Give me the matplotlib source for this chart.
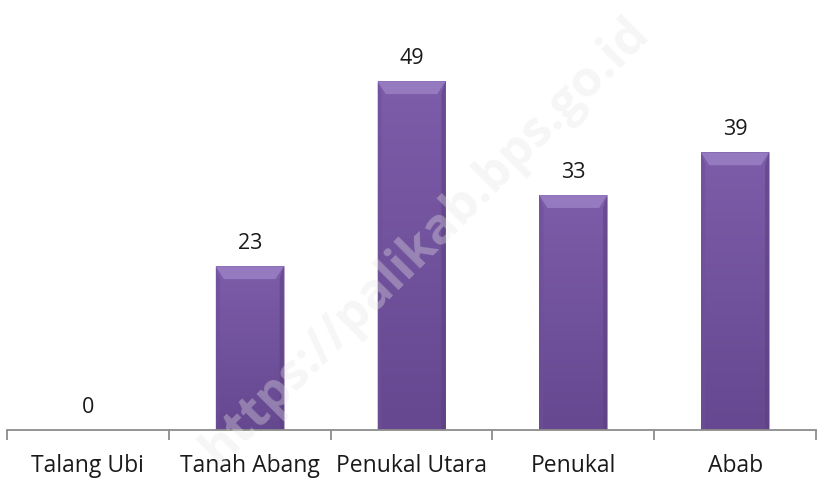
import matplotlib
matplotlib.use("Agg")
import matplotlib.pyplot as plt
import numpy as np
from matplotlib.patches import Polygon
from matplotlib.colors import LinearSegmentedColormap

categories = ["Talang Ubi", "Tanah Abang", "Penukal Utara", "Penukal", "Abab"]
values = [0, 23, 49, 33, 39]

plt.rcParams['font.family'] = ['Open Sans', 'DejaVu Sans']

fig = plt.figure(figsize=(8.17, 4.82), dpi=100)
ax = fig.add_axes([7/817, 52/482, 809/817, 427/482])
x = np.arange(len(categories))
bw = 0.42
bars = ax.bar(x, values, width=bw, color="#7a5aa5", edgecolor="#b9a6d3", linewidth=0.6, zorder=2)

ax.set_xlim(-0.5, len(categories) - 0.5)
ax.set_ylim(0, 60)

grad = np.linspace(0, 1, 100).reshape(-1, 1)
cmap = LinearSegmentedColormap.from_list("g", ["#654890", "#7d5ca9"])
for b, v in zip(bars, values):
    if v <= 0:
        continue
    x0 = b.get_x(); w = b.get_width()
    im = ax.imshow(grad, extent=(x0, x0 + w, 0, v), origin="lower", aspect="auto", cmap=cmap, zorder=2.1)
    im.set_clip_path(b)
    bev_h = 1.8
    bev_w = w * 0.12
    top = Polygon([[x0, v], [x0 + w, v], [x0 + w - bev_w, v - bev_h], [x0 + bev_w, v - bev_h]],
                  closed=True, facecolor="#957ac0", edgecolor="none", zorder=2.2)
    ax.add_patch(top)
    left = Polygon([[x0, v], [x0 + bev_w * 0.5, v - bev_h], [x0 + bev_w * 0.5, 0], [x0, 0]],
                   closed=True, facecolor="#6e4f98", edgecolor="none", zorder=2.2, alpha=0.6)
    ax.add_patch(left)
    right = Polygon([[x0 + w, v], [x0 + w - bev_w * 0.5, v - bev_h], [x0 + w - bev_w * 0.5, 0], [x0 + w, 0]],
                    closed=True, facecolor="#5d417f", edgecolor="none", zorder=2.2, alpha=0.6)
    ax.add_patch(right)

for xi, v in zip(x, values):
    ax.text(xi, v + 1.7, str(v), ha="center", va="bottom", fontsize=15.5, color="#1a1a1a", zorder=3)

for s in ["top", "right", "left"]:
    ax.spines[s].set_visible(False)
ax.spines["bottom"].set_color("#8c8c8c")
ax.spines["bottom"].set_linewidth(1.3)
ax.set_yticks([])
ax.set_xticks(np.arange(-0.5, len(categories), 1.0))
ax.set_xticklabels([])
ax.set_xticks(x, minor=True)
ax.set_xticklabels(categories, minor=True, fontsize=16.5, color="#1a1a1a")
ax.tick_params(axis="x", which="major", length=7, width=1.3, color="#8c8c8c", direction="out")
ax.tick_params(axis="x", which="minor", length=0, pad=17)

fig.text(0.52, 0.5, "https://palikab.bps.go.id", rotation=45, fontsize=36, fontweight="bold",
         color="#e6e6e6", alpha=0.35, ha="center", va="center", zorder=0)

fig.savefig("out.png", dpi=100)
